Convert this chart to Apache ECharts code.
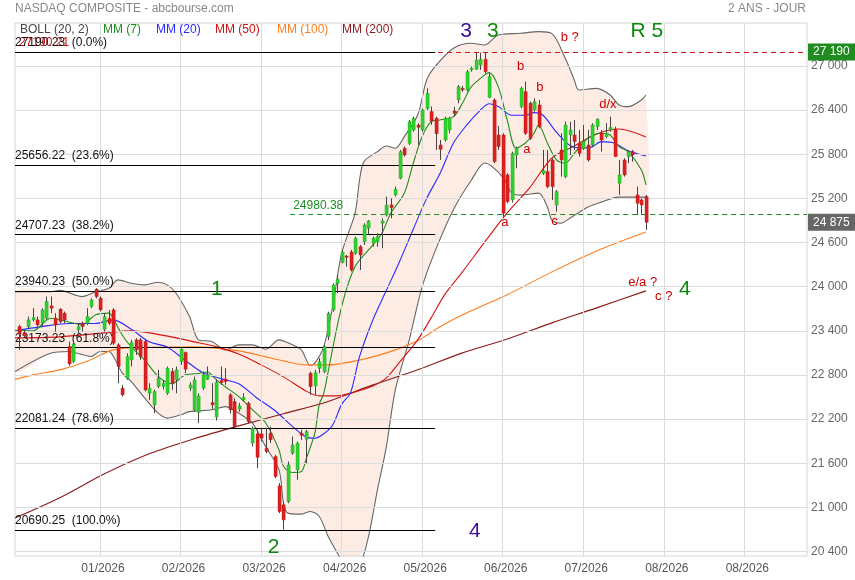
<!DOCTYPE html>
<html><head><meta charset="utf-8">
<script src="https://cdn.jsdelivr.net/npm/echarts@6/dist/echarts.min.js"></script>
<style>html,body{margin:0;padding:0;background:#fff}#c{width:855px;height:580px}</style>
</head><body><div id="c"></div>
<script>
// ---------- data ----------
const tickLabels = ['01/2026','02/2026','03/2026','04/2026','05/2026','06/2026','07/2026','08/2026','08/2026'];
const tickSlots = [19,37,55,73,91,109,127,145,163];
const yTicks = [20400,21000,21600,22200,22800,23400,24000,24600,25200,25800,26400,27000];

// daily candles [open, high, low, close]
const ohlc = [
[23458,23481,23141,23358],[23376,23413,23310,23331],[23454,23594,23436,23549],[23549,23707,23526,23580],[23549,23594,23458,23481],
[23503,23707,23458,23684],[23571,23866,23549,23798],[23739,23866,23639,23707],[23571,23639,23390,23481],[23694,23707,23503,23526],
[23639,23662,23503,23549],[23186,23254,22924,22951],[22982,23254,22960,23220],[23413,23500,23368,23458],[23503,23526,23390,23458],
[23503,23707,23480,23594],[23730,23843,23707,23820],[23965,23979,23843,23866],[23843,23866,23662,23684],[23420,23640,23390,23594],
[23571,23684,23480,23503],[23684,23707,23209,23232],[23209,23232,22688,22914],[22620,22665,22507,22529],[22756,23095,22733,23050],
[23005,23277,22914,23241],[23277,23300,23073,23141],[23277,23300,23005,23050],[23254,23277,22574,22597],[22552,22688,22461,22620],
[22393,22597,22280,22575],[22643,22869,22620,22756],[22643,22733,22600,22688],[22552,22914,22530,22892],[22847,22892,22597,22688],
[22733,22915,22552,22869],[22983,23164,22937,23150],[23105,23119,22824,22878],[22620,22700,22580,22665],[22326,22779,22303,22733],
[22290,22552,22145,22516],[22620,22846,22597,22801],[22743,22915,22733,22801],[22425,22688,22326,22394],[22230,22740,22180,22700],
[22724,22915,22665,22697],[22743,22892,22665,22711],[22530,22552,22280,22326],[22439,22484,22076,22099],[22335,22420,22300,22380],
[22462,22552,22440,22493],[22416,22439,22145,22167],[21873,22100,21828,22077],[22000,22053,21533,21680],[21999,22076,21895,21940],
[21804,22076,21736,21759],[22008,22099,21873,21918],[21691,21714,21397,21419],[21293,21329,20921,20944],[21034,21080,20695,20830],
[21080,21623,21057,21578],[21736,21963,21714,21850],[21510,21895,21374,21872],[22008,22054,21918,21981],[21927,22054,21600,22031],
[22823,22846,22529,22642],[22650,22868,22529,22830],[22890,23027,22823,22980],[22846,23208,22823,23185],[23321,23660,23276,23638],
[23684,24046,23660,24024],[24046,24159,23910,24101],[24327,24500,24318,24472],[24417,24431,24273,24399],[24472,24500,24205,24227],
[24454,24680,24431,24658],[24544,24567,24227,24431],[24612,24862,24567,24839],[24794,24907,24703,24893],[24590,24680,24544,24658],
[24612,24726,24544,24680],[24862,24929,24522,24893],[24975,25224,24952,25111],[25111,25201,24929,25075],[25247,25360,25224,25324],
[25473,25858,25460,25836],[25881,25904,25768,25790],[25949,26266,25926,26243],[26130,26311,26107,26288],[26198,26220,25926,26166],
[26130,26424,26107,26402],[26424,26696,26402,26628],[26380,26450,26200,26250],[26290,26310,25860,26080],[25926,25994,25722,25867],
[25994,26311,25972,26289],[26130,26311,26085,26289],[26388,26447,26311,26357],[26538,26742,26493,26719],[26696,26730,26650,26674],
[26674,26946,26651,26923],[26946,26991,26923,26968],[26955,27181,26946,27081],[27013,27181,26946,27090],[27090,27190,26900,26923],
[26574,26900,26561,26855],[26538,26560,25677,25700],[26062,26185,25858,25904],[26062,26085,24952,24998],[25519,25541,25134,25156],
[25179,25836,25143,25813],[25790,25904,25609,25881],[26447,26719,26424,26696],[26651,26787,26062,26085],[26493,26515,25994,26017],
[26402,26560,26379,26515],[26470,26538,26153,26175],[25541,25858,25519,25577],[25564,25858,25337,25360],[25722,25745,25179,25360],
[25111,25315,25020,25292],[25858,26085,25496,25722],[25496,26243,25473,26198],[26062,26243,25790,26130],[26062,26266,25858,25972],
[25949,26130,25768,25813],[25881,26198,25858,25972],[25926,26130,25700,25722],[25926,26221,25904,26198],[26175,26289,26130,26275],
[26085,26130,25836,25994],[26040,26221,26017,26085],[26130,26311,26107,26166],[26139,26175,25768,25768],[25406,25722,25247,25519],
[25722,25745,25496,25519],[25768,25858,25677,25836],[25836,25858,25700,25790],[25247,25360,24975,25134],[25179,25201,24975,25111],
[25224,25247,24771,24875]
];

// indicator readings [day index, value]
const ma7 = [[-1,23400],[3,23400],[7,23571],[11,23520],[14,23481],[17,23617],[20,23640],[21,23560],[23,23340],[25,23180],[28,23000],[31,22780],[34,22680],[37,22800],[40,22820],[42,22840],[44,22733],[46,22640],[49,22506],[52,22330],[55,22150],[58,21780],[59,21560],[61,21474],[63,21487],[64,21646],[66,22008],[67,22400],[68,22550],[69,22850],[72,23730],[75,24273],[79,24567],[81,24726],[83,25000],[86,25270],[88,25678],[90,26040],[92,26243],[94,26266],[97,26311],[99,26493],[101,26719],[104,26878],[105,26910],[107,26719],[109,26266],[111,25881],[113,25949],[115,26085],[116,26198],[118,25949],[120,25723],[122,25678],[124,25813],[127,26017],[130,26085],[132,26062],[134,25904],[136,25836],[139,25587],[140,25383]];
const ma20 = [[-1,23400],[5,23457],[11,23500],[17,23500],[21,23549],[25,23420],[29,23250],[33,23180],[37,23000],[41,22830],[45,22750],[49,22680],[53,22490],[57,22320],[61,22100],[64,21960],[66,21940],[68,22000],[70,22120],[72,22400],[74,22560],[76,23050],[79,23550],[82,23950],[85,24350],[88,24780],[91,25200],[94,25541],[97,25953],[100,26200],[103,26400],[105,26487],[107,26450],[110,26330],[113,26330],[115,26366],[117,26330],[120,26100],[123,25920],[126,25885],[128,25900],[130,25971],[133,25950],[136,25849],[140,25777]];
const ma50 = [[-1,23304],[9,23318],[19,23372],[25,23399],[29,23372],[35,23304],[39,23250],[44,23182],[49,23086],[54,22937],[59,22774],[64,22583],[67,22515],[71,22515],[75,22570],[79,22651],[82,22760],[85,22978],[89,23277],[92,23576],[95,23889],[99,24201],[104,24608],[109,25002],[114,25342],[119,25749],[124,25912],[129,26075],[134,26143],[140,26034]];
const ma100 = [[-1,22740],[3,22801],[9,22869],[15,22982],[21,23141],[29,23175],[39,23182],[49,23127],[55,23046],[59,22991],[64,22937],[69,22937],[74,22978],[79,23046],[84,23141],[89,23264],[94,23454],[99,23617],[104,23753],[109,23889],[119,24201],[129,24486],[140,24744]];
const ma200 = [[-1,20854],[9,21130],[19,21456],[29,21728],[39,21932],[49,22108],[59,22272],[69,22440],[79,22665],[89,22870],[99,23100],[109,23290],[119,23508],[129,23712],[140,23943]];
const bollUp = [[-1,23933],[7,23933],[9,23950],[14,23865],[17,23930],[20,23979],[22,24092],[25,24047],[28,24024],[31,24060],[33,24024],[35,23911],[38,23593],[40,23277],[43,23254],[46,23141],[49,23209],[52,23209],[55,23150],[58,23277],[61,23209],[63,23141],[65,22930],[66,22960],[68,23186],[70,23730],[72,24455],[75,25000],[76,25450],[77,25700],[80,25836],[82,25913],[84,25881],[86,26040],[89,26334],[91,26810],[93,27000],[97,27240],[101,27308],[104,27285],[107,27421],[112,27444],[116,27467],[119,27440],[122,27100],[124,26810],[125,26674],[129,26696],[132,26606],[134,26470],[136,26447],[139,26538],[140,26606]];
const bollLow = [[-1,22846],[7,23096],[11,23118],[16,23050],[18,23118],[20,23118],[21,23050],[23,22824],[25,22710],[28,22484],[31,22280],[33,22213],[36,22258],[38,22302],[43,22326],[46,22370],[49,22280],[52,22150],[53,22054],[55,21827],[58,21510],[59,21058],[60,20922],[63,20908],[65,20944],[67,20876],[69,20604],[72,20280],[74,20080],[76,20200],[78,20604],[80,21238],[82,21827],[84,22600],[87,23250],[90,24000],[93,24500],[97,25050],[101,25450],[104,25680],[108,25489],[110,25271],[112,25244],[116,25271],[118,25081],[119,24904],[121,24863],[123,24931],[127,25081],[130,25149],[134,25217],[140,25217]];

// Fibonacci retracement & levels
const fibLevels = [27190.23, 25656.22, 24707.23, 23940.23, 23173.23, 22081.24, 20690.25];
const fibPct = ['0.0%','23.6%','38.2%','50.0%','61.8%','78.6%','100.0%'];
const redLevel = 27190.21;
const greenLevel = 24980.38;
const highBox = 27190;
const lastClose = 24875;

// wave annotations
const annText = ['3','3','R 5','b ?','b','b','a','d/x','a','c','e/a ?','c ?','4','1','2','4'];
const annK    = [99.9,105.9,140.3,123.1,112.1,116.4,113.5,131.6,108.6,119.7,139.4,144.1,148.8,44.2,56.9,101.9];
const annV    = [27470,27470,27462,27380,26986,26701,25858,26470,24860,24879,24050,23859,23954,23954,20450,20668];
const annKind = ['p','g','g','r','r','r','r','r','r','r','r','r','g','g','g','p'];

// ---------- chart ----------
const FONT = '"Liberation Sans", Arial, sans-serif';
const XMIN = 0, XMAX = 177, YMIN = 20339, YMAX = 27584;
const FIB_END = 93.9, GREEN_START = 61.5;
const kindStyle = {
  g: {color:'#0a8a0a', fontSize:21},
  p: {color:'#3d0a99', fontSize:21},
  r: {color:'#cc0000', fontSize:13}
};
const toXY = arr => arr.map(p => [p[0] + 1, p[1]]);
const spaced = v => String(v).replace(/\B(?=(\d{3})+(?!\d))/g, ' ');

const chart = echarts.init(document.getElementById('c'), null, {renderer:'canvas'});

function lineSeries(name, data, color, z) {
  return {name, type:'line', data: toXY(data), showSymbol:false, symbol:'none', smooth:0.3,
    lineStyle:{color, width:1.1}, silent:true, z: z || 3, clip:true};
}

const option = {
  animation:false,
  textStyle:{fontFamily:FONT},
  grid:{left:15, right:48, top:23, bottom:24, show:true, borderColor:'#d4d4d4', borderWidth:1, backgroundColor:'transparent'},
  xAxis:{type:'value', min:XMIN, max:XMAX, splitLine:{show:false}, axisTick:{show:false},
    axisLine:{show:false},
    axisLabel:{customValues:tickSlots, color:'#555', fontSize:12, margin:7, fontFamily:FONT, padding:[0,0,0,6],
      formatter:v => { const i = tickSlots.indexOf(Math.round(v)); return i >= 0 ? tickLabels[i] : ''; }}},
  yAxis:{type:'value', position:'right', min:YMIN, max:YMAX, scale:true, splitLine:{show:false},
    axisTick:{show:false}, axisLine:{show:false},
    axisLabel:{customValues:yTicks, color:'#666', fontSize:12, margin:4, fontFamily:FONT, formatter:v => spaced(v)}},
  graphic:[
    {type:'text', x:15, y:9, style:{text:'NASDAQ COMPOSITE - abcbourse.com', fill:'#888', font:'12px '+FONT, textVerticalAlign:'middle', verticalAlign:'middle'}},
    {type:'text', x:806, y:9, style:{text:'2 ANS - JOUR', fill:'#888', font:'12px '+FONT, textAlign:'right', align:'right', textVerticalAlign:'middle', verticalAlign:'middle'}},
    {type:'text', x:20, y:30, z:50, style:{text:'BOLL (20, 2)', fill:'#444', font:'12px '+FONT, textVerticalAlign:'middle', verticalAlign:'middle'}},
    {type:'text', x:103, y:30, z:50, style:{text:'MM (7)', fill:'#1e8c1e', font:'12px '+FONT, textVerticalAlign:'middle', verticalAlign:'middle'}},
    {type:'text', x:156, y:30, z:50, style:{text:'MM (20)', fill:'#2a2aff', font:'12px '+FONT, textVerticalAlign:'middle', verticalAlign:'middle'}},
    {type:'text', x:215, y:30, z:50, style:{text:'MM (50)', fill:'#cc1111', font:'12px '+FONT, textVerticalAlign:'middle', verticalAlign:'middle'}},
    {type:'text', x:277, y:30, z:50, style:{text:'MM (100)', fill:'#ff7f1e', font:'12px '+FONT, textVerticalAlign:'middle', verticalAlign:'middle'}},
    {type:'text', x:342, y:30, z:50, style:{text:'MM (200)', fill:'#8b1a1a', font:'12px '+FONT, textVerticalAlign:'middle', verticalAlign:'middle'}}
  ],
  series:[
    // grid lines
    {name:'grid', type:'line', data:[[0, YMIN]], showSymbol:false, lineStyle:{opacity:0}, silent:true, z:0,
      markLine:{silent:true, symbol:['none','none'], label:{show:false},
        lineStyle:{color:'#dcdcdc', width:1, type:'solid'},
        data: tickSlots.map(x => ({xAxis:x})).concat(yTicks.map(v => ({yAxis:v})))}},
    // bollinger fill
    {name:'bollFill', type:'custom', silent:true, z:1, clip:true, data:[[0, YMIN]],
      renderItem:(params, api) => {
        const cs = params.coordSys;
        const clampY = y => Math.min(Math.max(y, cs.y), cs.y + cs.height);
        const clampX = x => Math.min(Math.max(x, cs.x), cs.x + cs.width);
        const pts = [];
        toXY(bollUp).forEach(p => { const c = api.coord(p); pts.push([clampX(c[0]), clampY(c[1])]); });
        toXY(bollLow).slice().reverse().forEach(p => { const c = api.coord(p); pts.push([clampX(c[0]), clampY(c[1])]); });
        return {type:'polygon', shape:{points:pts, smooth:0.3}, style:{fill:'rgba(248,170,130,0.22)'},
          clipPath:{type:'rect', shape:{x:cs.x, y:cs.y, width:cs.width, height:cs.height}}};
      }},
    lineSeries('BOLL (20, 2)', bollUp, '#666', 2),
    lineSeries('BOLL low', bollLow, '#666', 2),
    lineSeries('MM (200)', ma200, '#8b1a1a'),
    lineSeries('MM (100)', ma100, '#ff7f1e'),
    lineSeries('MM (50)', ma50, '#d41414'),
    lineSeries('MM (20)', ma20, '#2a2aff'),
    lineSeries('MM (7)', ma7, '#1e8c1e'),
    // red / green dashed levels
    {name:'levels', type:'line', data:[[0, YMIN]], showSymbol:false, lineStyle:{opacity:0}, silent:true, z:4,
      markLine:{silent:true, symbol:['none','none'],
        data:[
          [{coord:[XMIN, redLevel], lineStyle:{color:'#d01414', type:[5,4], width:1},
            label:{show:true, position:'insideStartTop', formatter:String(redLevel), color:'#d01414', fontSize:12, distance:[4,3], fontFamily:FONT}},
           {coord:[XMAX, redLevel]}],
          [{coord:[GREEN_START, greenLevel], lineStyle:{color:'#1e8c1e', type:[5,4], width:1},
            label:{show:true, position:'insideStartTop', formatter:String(greenLevel), color:'#1e8c1e', fontSize:12, distance:[3,3], fontFamily:FONT}},
           {coord:[XMAX, greenLevel]}]
        ]}},
    // right-hand value boxes
    {name:'boxes', type:'line', data:[[0, YMIN]], showSymbol:false, lineStyle:{opacity:0}, silent:true, z:9,
      markLine:{silent:true, symbol:['none','none'], lineStyle:{color:'rgba(0,0,0,0)', width:0},
        data:[
          {yAxis:highBox,
            label:{show:true, position:'end', formatter:spaced(highBox), color:'#fff', backgroundColor:'#1e8c1e', padding:[3,7,2,5], fontSize:12, distance:1, fontFamily:FONT}},
          {yAxis:lastClose,
            label:{show:true, position:'end', formatter:spaced(lastClose), color:'#fff', backgroundColor:'#666', padding:[3,7,2,5], fontSize:12, distance:1, fontFamily:FONT}}
        ]}},
    // fibonacci lines
    {name:'fib', type:'line', data:[[0, YMIN]], showSymbol:false, lineStyle:{opacity:0}, silent:true, z:5,
      markLine:{silent:true, symbol:['none','none'], lineStyle:{color:'#000', width:1, type:'solid'},
        data: fibLevels.map((lv, i) => [
          {coord:[XMIN, lv], label:{show:true, position:'insideStartTop', formatter: lv.toFixed(2) + '  (' + fibPct[i] + ')',
            color:'#111', fontSize:12, distance:[0,3], fontFamily:FONT}},
          {coord:[FIB_END, lv]}
        ])}},
    // candles
    {name:'NASDAQ', type:'custom', z:6, silent:true,
      data: ohlc.map((c, k) => [k + 1, c[0], c[1], c[2], c[3]]),
      encode:{x:0, y:[1,2,3,4]},
      renderItem:(params, api) => {
        const x = api.value(0), o = api.value(1), h = api.value(2), l = api.value(3), c = api.value(4);
        const po = api.coord([x, o]), pc = api.coord([x, c]), ph = api.coord([x, h]), pl = api.coord([x, l]);
        const up = c >= o;
        const cx = Math.round(po[0]);
        const top = Math.min(po[1], pc[1]), bot = Math.max(po[1], pc[1]);
        return {type:'group', children:[
          {type:'line', shape:{x1:cx + 0.5, y1:ph[1], x2:cx + 0.5, y2:pl[1]}, style:{stroke:'#444', lineWidth:1}},
          {type:'rect', shape:{x:cx - 1, y:top, width:3.2, height:Math.max(bot - top, 1.2)},
            style:{fill: up ? '#2ed12e' : '#dc1f1f', stroke: up ? '#1fa61f' : '#b51616', lineWidth:0.4}}
        ]};
      }},
    // wave annotations
    {name:'waves', type:'scatter', z:8, silent:true, symbol:'circle', symbolSize:1,
      itemStyle:{color:'rgba(0,0,0,0)'},
      data: annText.map((t, i) => ({value:[annK[i] + 1, annV[i]],
        label:{show:true, position:[0,0], align:'center', verticalAlign:'middle', formatter:t,
          color:kindStyle[annKind[i]].color, textBorderWidth:0, opacity:1,
          fontSize:kindStyle[annKind[i]].fontSize, fontFamily:FONT}}))}
  ]
};
chart.setOption(option);
</script>
</body></html>
